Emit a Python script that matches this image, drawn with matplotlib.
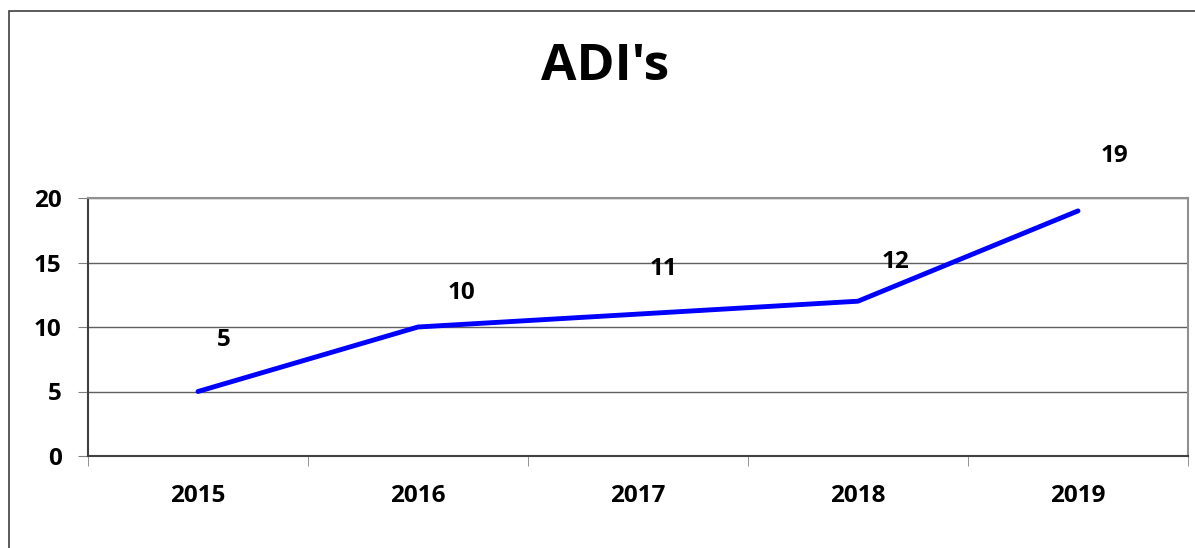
import matplotlib
matplotlib.use("Agg")
import matplotlib.pyplot as plt
from matplotlib.patches import Rectangle

# datos del grafico
years = ["2015", "2016", "2017", "2018", "2019"]
values = [5, 10, 11, 12, 19]
# desplazamiento de cada etiqueta (pixeles)
label_dx = [26, 43, 25, 37, 36]
label_dy = [51, 34, 45, 39, 55]

plt.rcParams['font.family'] = ['Open Sans', 'DejaVu Sans']

fig = plt.figure(figsize=(11.95, 5.48), dpi=100)
ax = fig.add_axes([88 / 1195, 92 / 548, 1100 / 1195, 258 / 548])

# borde exterior del grafico
fig.patches.append(Rectangle((9 / 1195, -0.1), 1.2, (548 - 11) / 548 + 0.1,
                             transform=fig.transFigure, fill=False,
                             edgecolor="#404040", linewidth=1.2))

x = range(len(years))
ax.plot(x, values, color="#0000ff", linewidth=3.5, solid_capstyle="round")

for i, v in enumerate(values):
    ax.annotate(str(v), (i, v), xytext=(label_dx[i] * 0.72, label_dy[i] * 0.72),
                textcoords="offset points", ha="center", va="center",
                fontsize=17.5, fontweight="bold")

ax.set_xlim(-0.5, len(years) - 0.5)
ax.set_ylim(0, 20)
ax.set_yticks([0, 5, 10, 15, 20])
ax.yaxis.grid(True, color="#606060", linewidth=1)
ax.set_axisbelow(True)

ax.set_xticks(x)
ax.set_xticklabels(years, fontsize=17.5, fontweight="bold")
ax.tick_params(axis="x", length=0, pad=20)
ax.set_xticks([i - 0.5 for i in range(len(years) + 1)], minor=True)
ax.tick_params(axis="x", which="minor", length=7, color="#808080")
ax.tick_params(axis="y", length=7, color="#808080", pad=12, labelsize=17.5)
for lbl in ax.get_yticklabels():
    lbl.set_fontweight("bold")

ax.spines["left"].set_color("#404040")
ax.spines["bottom"].set_color("#404040")
ax.spines["top"].set_color("#909090")
ax.spines["right"].set_color("#909090")
for s in ax.spines.values():
    s.set_linewidth(1.5)

fig.text(605 / 1195, 1 - 67 / 548, "ADI's", ha="center", va="center",
         fontsize=37, fontweight="bold")

plt.savefig("out.png", dpi=100)
plt.close()
